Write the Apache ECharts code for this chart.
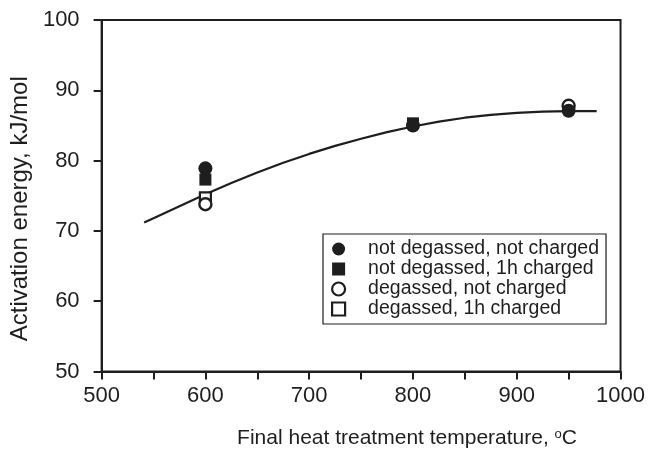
<!DOCTYPE html>
<html>
<head>
<meta charset="utf-8">
<script src="https://cdn.jsdelivr.net/npm/echarts@6/dist/echarts.min.js"></script>
<style>
html,body{margin:0;padding:0;background:#fff;}
#chart{width:648px;height:454px;}
</style>
</head>
<body>
<div id="chart"></div>
<script>
// Fitted curve
const curveTemps = [541, 550, 575, 600, 625, 650, 675, 700, 725, 750, 775, 800, 825, 850, 875, 900, 925, 950, 977];
const curveEnergy = [71.2, 71.8, 73.5, 75.2, 76.8, 78.3, 79.7, 80.95, 82.1, 83.1, 84.05, 84.85, 85.55, 86.1, 86.5, 86.8, 86.98, 87.05, 87.05];

// Measured points
const ndncTemps = [600, 800, 950];
const ndncEnergy = [78.9, 85.0, 87.1];
const nd1hTemps = [600, 800];
const nd1hEnergy = [77.3, 85.3];
const dncTemps = [600, 950];
const dncEnergy = [73.8, 87.8];
const d1hTemps = [600];
const d1hEnergy = [74.7];

const seriesNames = ['not degassed, not charged', 'not degassed, 1h charged', 'degassed, not charged', 'degassed, 1h charged'];

const xTicks = [500, 600, 700, 800, 900, 1000];
const yTicks = [50, 60, 70, 80, 90, 100];

const ink = '#1e1e1e';
const font = 'Liberation Sans, Arial, sans-serif';

function pairs(xs, ys) { return xs.map((x, i) => [x, ys[i]]); }

const chart = echarts.init(document.getElementById('chart'));
chart.setOption({
  animation: false,
  backgroundColor: '#fff',
  grid: { left: 99, right: 24, top: 20, bottom: 74, show: true, borderColor: ink, borderWidth: 2, backgroundColor: 'transparent' },
  textStyle: { fontFamily: font, color: ink },
  legend: {
    orient: 'vertical',
    left: 323, top: 234,
    padding: [5, 7, 5, 8],
    borderColor: ink, borderWidth: 1.2,
    backgroundColor: '#fff',
    itemGap: 0,
    itemWidth: 13, itemHeight: 13,
    textStyle: { fontFamily: font, fontSize: 19.5, lineHeight: 20, height: 20, color: ink, padding: [0, 0, 0, 18] },
    data: [
      { name: seriesNames[0], icon: 'circle', itemStyle: { color: ink, borderWidth: 0 } },
      { name: seriesNames[1], icon: 'rect', itemStyle: { color: ink, borderWidth: 0 } },
      { name: seriesNames[2], icon: 'circle', itemStyle: { color: '#fff', borderColor: ink, borderWidth: 2.2 } },
      { name: seriesNames[3], icon: 'rect', itemStyle: { color: '#fff', borderColor: ink, borderWidth: 2.2 } }
    ]
  },
  xAxis: {
    type: 'value', min: xTicks[0], max: xTicks[xTicks.length - 1], interval: 100,
    name: 'Final heat treatment temperature, {sup|o}C',
    nameLocation: 'middle', nameGap: 56,
    nameTextStyle: {
      fontFamily: font, fontSize: 21, color: ink, padding: [0, 0, 0, 92],
      rich: { sup: { fontFamily: font, fontSize: 13, color: ink, padding: [0, 0, 9, 0] } }
    },
    axisLine: { show: true, onZero: false, lineStyle: { color: ink, width: 2 } },
    axisTick: { show: true, inside: false, length: 8, lineStyle: { color: ink, width: 2 } },
    minorTick: { show: true, splitNumber: 2, length: 8, lineStyle: { color: ink, width: 2 } },
    axisLabel: { fontFamily: font, fontSize: 22, color: ink, margin: 13, formatter: v => String(v) },
    splitLine: { show: false }
  },
  yAxis: {
    type: 'value', min: yTicks[0], max: yTicks[yTicks.length - 1], interval: 10,
    name: 'Activation energy, kJ/mol',
    nameLocation: 'middle', nameGap: 57,
    nameTextStyle: { fontFamily: font, fontSize: 24, color: ink, padding: [0, 26, 0, 0] },
    axisLine: { show: true, onZero: false, lineStyle: { color: ink, width: 2 } },
    axisTick: { show: true, inside: false, length: 8, lineStyle: { color: ink, width: 2 } },
    axisLabel: { fontFamily: font, fontSize: 22, color: ink, margin: 22, formatter: v => String(v) },
    splitLine: { show: false }
  },
  series: [
    {
      name: 'fit', type: 'line', data: pairs(curveTemps, curveEnergy), smooth: false,
      showSymbol: false, symbol: 'none', lineStyle: { color: ink, width: 2.2, join: 'round' }, z: 3, silent: true
    },
    { name: seriesNames[3], type: 'scatter', data: pairs(d1hTemps, d1hEnergy), symbol: 'rect', symbolSize: 11,
      itemStyle: { color: '#fff', borderColor: ink, borderWidth: 2.2, opacity: 1 }, z: 4 },
    { name: seriesNames[2], type: 'scatter', data: pairs(dncTemps, dncEnergy), symbol: 'circle', symbolSize: 12,
      itemStyle: { color: '#fff', borderColor: ink, borderWidth: 2.4, opacity: 1 }, z: 4 },
    { name: seriesNames[1], type: 'scatter', data: pairs(nd1hTemps, nd1hEnergy), symbol: 'rect', symbolSize: 12,
      itemStyle: { color: ink, borderWidth: 0, opacity: 1 }, z: 5 },
    { name: seriesNames[0], type: 'scatter', data: pairs(ndncTemps, ndncEnergy), symbol: 'circle', symbolSize: 14,
      itemStyle: { color: ink, borderWidth: 0, opacity: 1 }, z: 6 }
  ]
});
</script>
</body>
</html>
